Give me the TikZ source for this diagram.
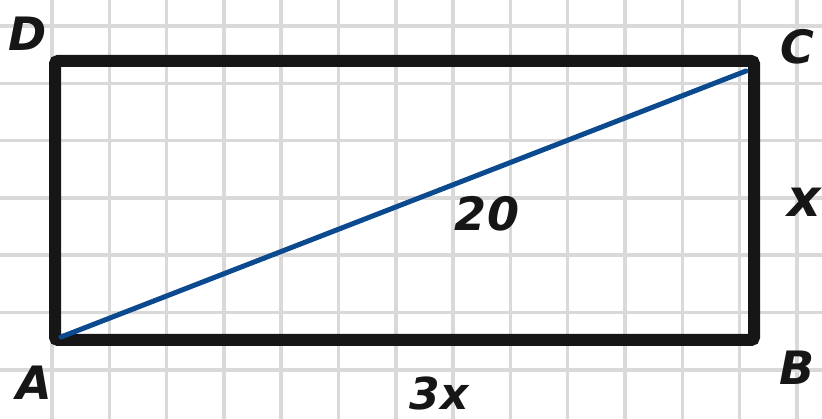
\documentclass[tikz,border=0pt]{standalone}
\usepackage{fontspec}
\setmainfont{DejaVu Sans}
\definecolor{gridgray}{HTML}{D9D9D9}
\definecolor{ink}{HTML}{161616}
\definecolor{diagblue}{HTML}{0B4A8E}
\begin{document}
\begin{tikzpicture}[x=1pt,y=-1pt,
  gridline/.style={gridgray,line width=3.5pt},
  frame/.style={ink,line width=12pt,rounded corners=3pt},
  diag/.style={diagblue,line width=5pt,line cap=round},
  lbl/.style={font=\fontsize{46}{46}\selectfont\bfseries\itshape,text=ink,inner sep=0pt,anchor=center},
  ]
\useasboundingbox (0,0) rectangle (822,419);
% grid
\foreach \i in {0,...,13} {
  \draw[gridline] ({52+57.3*\i},0) -- ({52+57.3*\i},419);
}
\foreach \j in {0,...,6} {
  \draw[gridline] (0,{26+57.3*\j}) -- (822,{26+57.3*\j});
}
% rectangle corners
\coordinate (A) at (55,340);
\coordinate (B) at (754,340);
\coordinate (C) at (754,61);
\coordinate (D) at (55,61);
\coordinate (Ad) at (61,337);
\coordinate (Cd) at (746,71);
\draw[frame] (A) -- (B) -- (C) -- (D) -- cycle;
\draw[diag] (Ad) -- (Cd);
% labels
\node[lbl] (lD) at (28,34) {D};
\node[lbl] (lC) at (797,47) {C};
\node[lbl] (lA) at (34,383) {A};
\node[lbl] (lB) at (797,368) {B};
\node[lbl] (l20) at (487,214) {20};
\node[lbl,font=\fontsize{44}{44}\selectfont\bfseries\itshape] (l3x) at (439,393) {3x};
\node[lbl,font=\fontsize{52}{52}\selectfont\bfseries\itshape] (lx) at (804,202) {x};
\end{tikzpicture}
\end{document}
